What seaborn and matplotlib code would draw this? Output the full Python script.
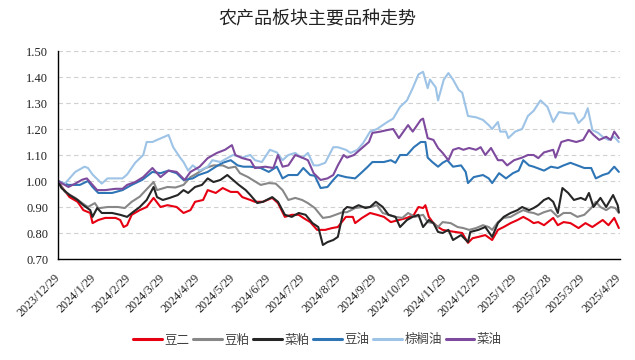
import numpy as np
import pandas as pd
import matplotlib
matplotlib.use("Agg")
import matplotlib.pyplot as plt
from matplotlib.ticker import FormatStrFormatter
import seaborn as sns

title = "农产品板块主要品种走势"
start_date = "2023-12-29"
tick_labels = ["2023/12/29", "2024/1/29", "2024/2/29", "2024/3/29", "2024/4/29",
               "2024/5/29", "2024/6/29", "2024/7/29", "2024/8/29", "2024/9/29",
               "2024/10/29", "2024/11/29", "2024/12/29", "2025/1/29", "2025/2/28",
               "2025/3/29", "2025/4/29"]
y_ticks = [0.70, 0.80, 0.90, 1.00, 1.10, 1.20, 1.30, 1.40, 1.50]

# day offsets from start_date and index values
soy2_days = [0, 4, 10, 17, 22, 28, 30, 35, 41, 50, 54, 57, 60, 64, 71, 77, 83, 89, 95, 103,
             109, 115, 119, 126, 130, 137, 143, 150, 156, 160, 167, 171, 178, 186, 191, 197, 203, 209, 213, 219,
             225, 232, 238, 243, 250, 256, 258, 264, 271, 277, 283, 289, 296, 303, 309, 313, 317, 319, 322, 326,
             330, 334, 339, 345, 351, 356, 360, 365, 371, 377, 382, 387, 393, 399, 404, 409, 413, 417, 422, 430,
             434, 439, 445, 452, 458, 464, 469, 473, 478, 483, 487]
soy2_vals = [1.00, 0.973, 0.938, 0.92, 0.888, 0.877, 0.838, 0.85, 0.858, 0.858,
             0.85, 0.823, 0.83, 0.87, 0.888, 0.90, 0.935, 0.90, 0.907, 0.90,
             0.877, 0.888, 0.92, 0.927, 0.965, 0.954, 0.973, 0.958, 0.958, 0.938,
             0.927, 0.92, 0.92, 0.935, 0.915, 0.862, 0.87, 0.87, 0.858, 0.842,
             0.812, 0.812, 0.819, 0.823, 0.862, 0.862, 0.838, 0.858, 0.877, 0.87,
             0.862, 0.842, 0.85, 0.858, 0.87, 0.90, 0.896, 0.907, 0.862, 0.838,
             0.823, 0.812, 0.808, 0.804, 0.80, 0.762, 0.78, 0.785, 0.792, 0.773,
             0.812, 0.823, 0.838, 0.85, 0.862, 0.85, 0.838, 0.842, 0.83, 0.858,
             0.83, 0.842, 0.838, 0.819, 0.838, 0.823, 0.838, 0.85, 0.83, 0.858,
             0.819]

meal_days = [0, 6, 15, 21, 26, 32, 35, 43, 52, 58, 64, 71, 78, 83, 86, 95, 102, 109, 115, 121,
             128, 135, 143, 148, 154, 158, 165, 169, 176, 183, 189, 195, 200, 206, 212, 217, 223, 230, 236, 241,
             247, 251, 258, 265, 271, 277, 282, 287, 293, 299, 304, 310, 317, 321, 326, 330, 334, 341, 347, 352,
             357, 363, 369, 374, 377, 382, 387, 393, 399, 404, 409, 413, 417, 422, 428, 434, 439, 445, 451, 457,
             463, 467, 471, 476, 480, 484, 487]
meal_vals = [1.00, 0.958, 0.935, 0.915, 0.90, 0.915, 0.895, 0.90, 0.90, 0.896,
             0.92, 0.94, 0.973, 0.996, 0.965, 0.977, 0.975, 0.985, 1.015, 1.03,
             1.05, 1.06, 1.06, 1.05, 1.055, 1.03, 1.015, 1.004, 0.985, 0.992,
             0.99, 0.965, 0.927, 0.935, 0.927, 0.915, 0.896, 0.858, 0.862, 0.87,
             0.88, 0.88, 0.896, 0.90, 0.90, 0.907, 0.877, 0.87, 0.862, 0.858,
             0.877, 0.862, 0.87, 0.842, 0.838, 0.823, 0.842, 0.838, 0.823, 0.819,
             0.812, 0.819, 0.83, 0.823, 0.812, 0.842, 0.858, 0.862, 0.877, 0.888,
             0.88, 0.877, 0.87, 0.88, 0.888, 0.862, 0.877, 0.877, 0.862, 0.87,
             0.896, 0.92, 0.90, 0.888, 0.90, 0.896, 0.877]

rmeal_days = [0, 3, 10, 17, 22, 28, 30, 34, 38, 47, 54, 60, 65, 71, 77, 83, 86, 91, 97, 104,
              109, 113, 119, 125, 130, 135, 141, 147, 152, 157, 163, 167, 173, 178, 186, 191, 197, 203, 209, 215,
              221, 226, 230, 234, 239, 243, 248, 251, 256, 261, 267, 271, 276, 282, 287, 293, 297, 303, 308, 313,
              317, 322, 326, 330, 334, 339, 343, 350, 356, 358, 365, 371, 377, 382, 387, 393, 399, 403, 409, 413,
              417, 422, 426, 430, 434, 438, 443, 448, 454, 458, 461, 465, 471, 476, 482, 486, 487]
rmeal_vals = [1.00, 0.973, 0.946, 0.927, 0.907, 0.888, 0.862, 0.896, 0.877, 0.877,
              0.87, 0.862, 0.88, 0.90, 0.927, 0.977, 0.938, 0.927, 0.935, 0.946,
              0.965, 0.954, 0.977, 0.985, 1.01, 0.996, 1.004, 1.023, 1.004, 0.985,
              0.965, 0.946, 0.915, 0.92, 0.938, 0.92, 0.87, 0.862, 0.877, 0.87,
              0.838, 0.823, 0.754, 0.765, 0.773, 0.785, 0.888, 0.90, 0.896, 0.907,
              0.896, 0.90, 0.92, 0.90, 0.87, 0.862, 0.823, 0.85, 0.862, 0.87,
              0.823, 0.85, 0.838, 0.804, 0.80, 0.812, 0.773, 0.792, 0.765, 0.804,
              0.812, 0.823, 0.785, 0.838, 0.862, 0.877, 0.888, 0.90, 0.888, 0.896,
              0.907, 0.927, 0.935, 0.92, 0.877, 0.973, 0.954, 0.927, 0.935, 0.927,
              0.954, 0.90, 0.935, 0.90, 0.946, 0.907, 0.88]

soyoil_days = [0, 9, 19, 26, 30, 35, 47, 56, 64, 73, 82, 89, 96, 103, 109, 117, 122, 130, 137, 143,
               150, 156, 161, 167, 176, 183, 190, 195, 200, 208, 213, 219, 223, 228, 234, 239, 243, 250, 258, 263,
               269, 273, 283, 289, 293, 297, 303, 309, 315, 319, 321, 325, 330, 334, 338, 343, 350, 354, 356, 361,
               369, 374, 377, 383, 389, 395, 400, 404, 409, 413, 422, 428, 434, 439, 445, 451, 457, 463, 467, 473,
               478, 483, 487]
soyoil_vals = [1.00, 0.985, 0.985, 1.00, 0.977, 0.954, 0.954, 0.965, 0.985, 1.004,
               1.035, 1.03, 1.04, 1.03, 1.004, 1.01, 1.023, 1.035, 1.055, 1.07,
               1.08, 1.06, 1.055, 1.055, 1.05, 1.035, 1.055, 1.01, 1.023, 1.023,
               1.05, 1.023, 1.02, 0.973, 0.977, 1.004, 1.023, 1.015, 1.01, 1.03,
               1.055, 1.073, 1.073, 1.08, 1.07, 1.10, 1.10, 1.13, 1.15, 1.15,
               1.09, 1.073, 1.055, 1.07, 1.08, 1.055, 1.06, 1.035, 0.992, 1.015,
               1.023, 1.01, 0.992, 1.03, 1.01, 1.03, 1.04, 1.08, 1.06, 1.055,
               1.04, 1.055, 1.05, 1.06, 1.07, 1.06, 1.05, 1.05, 1.01, 1.023,
               1.03, 1.055, 1.035]

palm_days = [0, 6, 15, 23, 26, 30, 38, 43, 56, 60, 67, 74, 77, 82, 86, 96, 100, 106, 109, 113,
             117, 123, 130, 134, 141, 147, 152, 160, 167, 171, 177, 184, 190, 195, 200, 206, 212, 217, 222, 226,
             232, 239, 243, 250, 254, 260, 265, 271, 277, 286, 291, 297, 303, 308, 313, 317, 321, 323, 328, 330,
             335, 339, 343, 348, 351, 356, 363, 369, 374, 377, 382, 384, 389, 391, 397, 403, 408, 413, 419, 425,
             430, 435, 443, 448, 452, 457, 460, 464, 469, 473, 478, 483, 487]
palm_vals = [1.00, 0.99, 1.035, 1.055, 1.05, 1.025, 0.99, 1.01, 1.01, 1.025,
             1.07, 1.10, 1.15, 1.15, 1.158, 1.177, 1.13, 1.09, 1.073, 1.04,
             1.06, 1.04, 1.055, 1.08, 1.073, 1.088, 1.10, 1.09, 1.10, 1.08,
             1.073, 1.12, 1.11, 1.08, 1.10, 1.108, 1.088, 1.108, 1.06, 1.06,
             1.07, 1.13, 1.13, 1.12, 1.108, 1.12, 1.146, 1.19, 1.20, 1.227,
             1.24, 1.285, 1.31, 1.357, 1.41, 1.42, 1.357, 1.39, 1.36, 1.31,
             1.39, 1.415, 1.39, 1.35, 1.34, 1.25, 1.245, 1.235, 1.215, 1.20,
             1.227, 1.19, 1.19, 1.165, 1.19, 1.20, 1.25, 1.27, 1.31, 1.285,
             1.227, 1.265, 1.26, 1.26, 1.223, 1.245, 1.28, 1.196, 1.185, 1.17,
             1.158, 1.17, 1.15]

roil_days = [0, 9, 15, 21, 25, 30, 34, 41, 50, 56, 60, 67, 74, 82, 89, 96, 103, 110, 115, 123,
             130, 138, 145, 151, 154, 160, 167, 171, 180, 187, 191, 195, 200, 206, 212, 217, 222, 228, 234, 239,
             243, 248, 251, 257, 264, 270, 273, 280, 286, 291, 296, 300, 304, 308, 315, 317, 321, 326, 330, 334,
             339, 343, 348, 352, 357, 363, 367, 371, 376, 382, 386, 390, 396, 403, 408, 413, 417, 422, 430, 432,
             437, 443, 450, 456, 461, 465, 470, 476, 480, 483, 487]
roil_vals = [1.00, 0.977, 0.99, 1.005, 1.01, 0.985, 0.965, 0.965, 0.97, 0.97,
             0.985, 0.996, 1.015, 1.05, 1.015, 1.04, 1.035, 1.004, 1.035, 1.055,
             1.088, 1.108, 1.12, 1.138, 1.10, 1.088, 1.08, 1.05, 1.055, 1.05,
             1.10, 1.055, 1.06, 1.10, 1.09, 1.08, 1.03, 1.004, 1.01, 1.023,
             1.06, 1.10, 1.09, 1.10, 1.127, 1.15, 1.185, 1.19, 1.196, 1.20,
             1.165, 1.19, 1.215, 1.19, 1.235, 1.24, 1.165, 1.158, 1.127, 1.108,
             1.08, 1.12, 1.127, 1.12, 1.127, 1.12, 1.13, 1.10, 1.127, 1.08,
             1.08, 1.06, 1.08, 1.09, 1.10, 1.10, 1.088, 1.11, 1.12, 1.09,
             1.15, 1.158, 1.15, 1.158, 1.196, 1.177, 1.158, 1.17, 1.158, 1.19,
             1.165]

series_names = ["豆二", "豆粕", "菜粕", "豆油", "棕榈油", "菜油"]
series_days = [soy2_days, meal_days, rmeal_days, soyoil_days, palm_days, roil_days]
series_vals = [soy2_vals, meal_vals, rmeal_vals, soyoil_vals, palm_vals, roil_vals]
colors = ["#E60012", "#878787", "#262626", "#2E75B6", "#9DC3E6", "#7E4A9E"]

start = pd.Timestamp(start_date)
frames = []
for name, d, v in zip(series_names, series_days, series_vals):
    frames.append(pd.DataFrame({"date": start + pd.to_timedelta(d, unit="D"),
                                "value": v, "series": name}))
df = pd.concat(frames, ignore_index=True)

sns.set_theme(style="white")
plt.rcParams["font.family"] = ["Liberation Serif", "Noto Sans CJK SC", "DejaVu Sans"]
cjk = ["Noto Sans CJK SC", "DejaVu Sans"]

fig = plt.figure(figsize=(6.35, 3.6), dpi=100)
ax = fig.add_axes([58 / 635, 101 / 360, 562 / 635, 208 / 360])

sns.lineplot(data=df, x="date", y="value", hue="series", hue_order=series_names,
             palette=colors, linewidth=1.5, ax=ax, legend=False)

ax.set_ylim(0.70, 1.50)
ax.set_yticks(y_ticks)
ax.yaxis.set_major_formatter(FormatStrFormatter("%.2f"))
ax.grid(axis="y", color="#D0D0D0", linestyle=(0, (4, 3)), linewidth=0.8)
ax.grid(axis="x", visible=False)

tick_dates = pd.to_datetime(tick_labels, format="%Y/%m/%d")
ax.set_xticks(tick_dates)
ax.set_xticklabels(tick_labels, rotation=45, ha="right", va="center",
                   rotation_mode="anchor")
ax.set_xlim(tick_dates[0], tick_dates[-1] + pd.Timedelta(days=1))

for s in ["top", "right"]:
    ax.spines[s].set_visible(False)
for s in ["left", "bottom"]:
    ax.spines[s].set_color("black")
    ax.spines[s].set_linewidth(1.0)
ax.tick_params(axis="x", direction="in", length=4, width=0.8, color="black",
               labelsize=8.7, labelcolor="#222222", pad=12)
ax.tick_params(axis="y", length=0, labelsize=9, labelcolor="#222222", pad=7)
ax.set_xlabel("")
ax.set_ylabel("")

fig.text(0.5, 1 - 19 / 360, title, ha="center", va="center", fontsize=13,
         family=cjk, fontweight="light", color="#222222")

handles = [plt.Line2D([], [], color=c, linewidth=2.2) for c in colors]
leg = fig.legend(handles, series_names, loc="center", bbox_to_anchor=(0.5, 1 - 340 / 360),
                 ncol=6, frameon=False, prop={"family": cjk, "size": 9},
                 handlelength=2.3, handletextpad=0.2, columnspacing=0.3)
for t in leg.get_texts():
    t.set_color("#404040")

fig.savefig("out.png", dpi=100)
